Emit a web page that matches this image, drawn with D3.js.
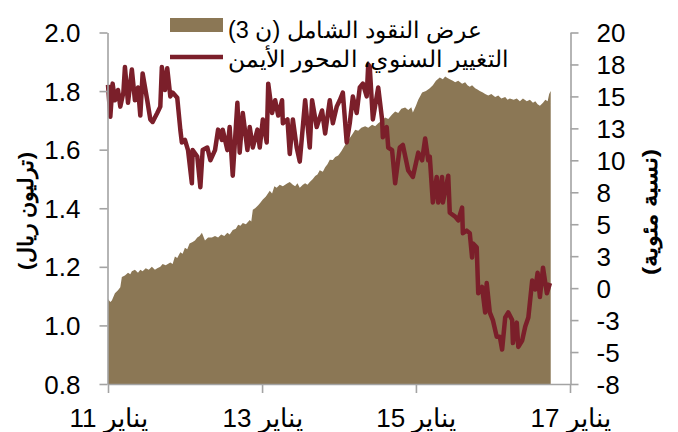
<!DOCTYPE html>
<html>
<head>
<meta charset="utf-8">
<script src="https://cdn.jsdelivr.net/npm/d3@7"></script>
<style>
  body { margin: 0; background: #fff; }
  svg { font-family: "Liberation Sans", Arial, sans-serif; }
</style>
</head>
<body>
<div id="chart"></div>
<script>
// data
// time is written as decimal years (2011.50 = mid 2011)
const moneyTime = [2011.00,2011.03,2011.05,2011.09,2011.13,2011.16,2011.18,2011.22,2011.26,2011.29,2011.31,2011.35,2011.39,2011.42,2011.45,2011.49,2011.53,2011.57,2011.61,2011.64,2011.68,2011.71,2011.75,2011.81,2011.84,2011.87,2011.90,2011.94,2011.97,
  2012.00,2012.03,2012.06,2012.10,2012.13,2012.16,2012.19,2012.22,2012.26,2012.30,2012.35,2012.39,2012.43,2012.47,2012.51,2012.55,2012.58,2012.62,2012.66,2012.69,2012.72,2012.75,2012.79,2012.84,2012.86,2012.88,2012.91,2012.95,2012.98,
  2013.01,2013.05,2013.10,2013.13,2013.16,2013.19,2013.23,2013.27,2013.30,2013.33,2013.36,2013.40,2013.43,2013.46,2013.49,2013.53,2013.56,2013.59,2013.62,2013.66,2013.69,2013.72,2013.75,2013.79,2013.82,2013.85,2013.88,2013.92,2013.95,2013.99,
  2014.03,2014.08,2014.11,2014.14,2014.18,2014.21,2014.25,2014.29,2014.34,2014.38,2014.43,2014.47,2014.51,2014.56,2014.60,2014.64,2014.69,2014.73,2014.77,2014.81,2014.86,2014.90,2014.94,2014.96,
  2015.00,2015.03,2015.06,2015.08,2015.13,2015.18,2015.22,2015.26,2015.31,2015.35,2015.38,2015.41,2015.44,2015.48,2015.51,2015.55,2015.60,2015.64,2015.67,2015.70,2015.73,2015.77,2015.80,2015.83,2015.87,2015.90,2015.94,2015.98,
  2016.03,2016.07,2016.11,2016.16,2016.19,2016.22,2016.27,2016.31,2016.35,2016.39,2016.44,2016.48,2016.52,2016.55,2016.58,2016.61,2016.65,2016.68,2016.71,2016.73,2016.75];
const moneySupply = [1.09,1.08,1.085,1.11,1.12,1.13,1.165,1.17,1.18,1.175,1.185,1.19,1.18,1.19,1.185,1.195,1.19,1.20,1.19,1.195,1.20,1.21,1.205,1.215,1.21,1.235,1.23,1.25,1.245,
  1.265,1.26,1.28,1.285,1.29,1.30,1.305,1.316,1.29,1.30,1.30,1.305,1.30,1.31,1.305,1.316,1.31,1.326,1.33,1.344,1.34,1.35,1.345,1.36,1.355,1.395,1.40,1.41,1.42,
  1.43,1.44,1.46,1.45,1.475,1.47,1.48,1.475,1.48,1.485,1.49,1.48,1.475,1.485,1.47,1.48,1.485,1.48,1.49,1.50,1.51,1.515,1.53,1.525,1.54,1.55,1.566,1.565,1.575,1.58,
  1.595,1.617,1.63,1.64,1.655,1.668,1.665,1.675,1.68,1.675,1.685,1.68,1.69,1.70,1.71,1.705,1.72,1.73,1.725,1.74,1.744,1.735,1.745,1.727,
  1.75,1.77,1.785,1.795,1.80,1.81,1.82,1.835,1.846,1.84,1.85,1.845,1.84,1.835,1.83,1.835,1.825,1.83,1.82,1.815,1.82,1.81,1.805,1.80,1.795,1.79,1.785,1.79,
  1.78,1.785,1.775,1.78,1.77,1.775,1.77,1.775,1.765,1.775,1.765,1.77,1.76,1.765,1.755,1.75,1.76,1.77,1.765,1.79,1.80];

const growthTime = [2011.00,2011.03,2011.06,2011.09,2011.13,2011.16,2011.20,2011.22,2011.26,2011.31,2011.35,2011.39,2011.42,2011.45,2011.51,2011.55,2011.58,2011.64,2011.68,2011.70,2011.74,2011.77,2011.81,2011.84,2011.90,2011.94,2011.96,
  2012.00,2012.04,2012.09,2012.10,2012.16,2012.20,2012.23,2012.29,2012.33,2012.39,2012.43,2012.48,2012.49,2012.55,2012.58,2012.62,2012.68,2012.71,2012.75,2012.81,2012.84,2012.88,2012.94,2012.97,
  2013.01,2013.06,2013.08,2013.13,2013.17,2013.21,2013.26,2013.27,2013.33,2013.36,2013.40,2013.45,2013.49,2013.56,2013.62,2013.65,2013.71,2013.78,2013.82,2013.88,2013.92,2013.97,
  2014.01,2014.05,2014.10,2014.14,2014.18,2014.23,2014.27,2014.31,2014.36,2014.38,2014.40,2014.44,2014.51,2014.56,2014.57,2014.62,2014.64,2014.69,2014.73,2014.79,2014.83,2014.90,2014.96,
  2015.03,2015.08,2015.12,2015.16,2015.18,2015.22,2015.27,2015.29,2015.34,2015.35,2015.42,2015.44,2015.51,2015.55,2015.60,2015.61,2015.66,2015.70,2015.73,2015.74,2015.79,2015.81,2015.86,2015.90,2015.92,2015.96,
  2016.00,2016.05,2016.09,2016.12,2016.16,2016.20,2016.25,2016.26,2016.31,2016.33,2016.38,2016.42,2016.46,2016.51,2016.55,2016.58,2016.61,2016.65,2016.70,2016.74];
const growthRate = [15.9,13.4,16.0,14.7,15.5,14.2,15.3,17.3,14.5,17.1,14.7,15.7,13.5,16.8,14.7,13.2,13.0,13.7,14.2,17.3,15.5,17.2,15.0,15.3,14.9,12.4,11.4,
  11.6,10.8,8.2,10.8,10.3,7.9,10.8,11.0,10.0,10.8,12.4,11.6,12.4,10.8,12.6,8.8,14.5,10.6,13.7,10.8,12.6,11.0,12.4,11.0,
  13.2,11.4,16.0,13.7,14.7,13.5,14.7,12.9,13.2,10.5,13.2,11.0,9.9,14.7,11.0,14.7,12.6,13.9,12.1,14.7,12.9,14.2,
  14.7,15.3,11.4,12.9,15.0,13.7,15.7,16.0,15.0,17.5,17.3,13.2,15.7,13.2,11.8,12.6,11.0,10.8,8.2,11.0,11.2,9.2,8.7,
  10.6,10.0,11.7,10.0,10.3,6.7,8.7,6.7,8.7,6.7,8.8,5.9,5.6,5.3,6.3,4.3,4.5,4.3,2.4,3.5,3.2,-0.4,0.1,-1.9,0.4,-1.9,
  -2.5,-3.8,-3.8,-4.8,-2.3,-1.9,-2.5,-4.3,-2.7,-4.6,-4.1,-3.0,-2.3,0.6,-0.1,1.2,-0.7,1.6,-0.4,0.4];

const leftTicks = [0.8, 1.0, 1.2, 1.4, 1.6, 1.8, 2.0];
const rightTicks = [-7.5, -5, -2.5, 0, 2.5, 5, 7.5, 10, 12.5, 15, 17.5, 20];
const xTickYears = [2011, 2013, 2015, 2017];

const moneyLabel = "عرض النقود الشامل (ن 3)";
const growthLabel = "التغيير السنوي، المحور الأيمن";
const leftTitle = "(ترليون ريال)";
const rightTitle = "(نسبة مئوية)";

/** CONSTANTS */
let width = 678,
  height = 432,
  margin = { top: 32.5, bottom: 48, left: 108, right: 108 };
const brown = "#8b7755", wine = "#7b1f2a", axisGrey = "#a3a3a3";

// decimal year -> Date
function toDate(y) {
  let yr = Math.floor(y);
  let start = new Date(yr, 0, 1), end = new Date(yr + 1, 0, 1);
  return new Date(+start + (y - yr) * (end - start));
}

let money = moneyTime.map((t, i) => ({ date: toDate(t), value: moneySupply[i] }));
let growth = growthTime.map((t, i) => ({ date: toDate(t), value: growthRate[i] }));

/** SCALES */
let xScale = d3.scaleTime()
  .domain([new Date(2011, 0, 1), new Date(2017, 0, 1)])
  .range([margin.left, width - margin.right]);

let yLeft = d3.scaleLinear()
  .domain([0.8, 2.0])
  .range([height - margin.bottom, margin.top]);

let yRight = d3.scaleLinear()
  .domain([-7.5, 20])
  .range([height - margin.bottom, margin.top]);

/** MAIN CODE */
let svg = d3.select("#chart")
  .append("svg")
  .attr("width", width)
  .attr("height", height);

// area
svg.append("path")
  .datum(money)
  .attr("fill", brown)
  .attr("d", d3.area()
    .x(d => xScale(d.date))
    .y0(yLeft(0.8))
    .y1(d => yLeft(d.value)));

// line
svg.append("path")
  .datum(growth)
  .attr("fill", "none")
  .attr("stroke", wine)
  .attr("stroke-width", 4.5)
  .attr("stroke-linejoin", "round")
  .attr("d", d3.line()
    .x(d => xScale(d.date))
    .y(d => yRight(d.value)));

// axes
let leftAxis = svg.append("g")
  .attr("transform", `translate(${margin.left - 0.5},0)`)
  .call(d3.axisLeft(yLeft).tickValues(leftTicks).tickFormat(d3.format(".1f"))
    .tickSize(8).tickSizeOuter(0).tickPadding(19));

let rightAxis = svg.append("g")
  .attr("transform", `translate(${width - margin.right + 0.5},0)`)
  .call(d3.axisRight(yRight).tickValues(rightTicks)
    .tickFormat(d => Math.sign(d) * Math.round(Math.abs(d)))
    .tickSize(8).tickSizeOuter(0).tickPadding(18));

let bottomAxis = svg.append("g")
  .attr("transform", `translate(0,${height - margin.bottom})`)
  .call(d3.axisBottom(xScale).tickValues(xTickYears.map(y => new Date(y, 0, 1)))
    .tickFormat(d => "يناير " + String(d.getFullYear()).slice(2))
    .tickSize(9).tickSizeOuter(0));

[leftAxis, rightAxis, bottomAxis].forEach(g => {
  g.selectAll("path, line").attr("stroke", axisGrey).attr("stroke-width", 1.6);
  g.selectAll("text").attr("fill", "#000").style("font-size", "26px");
});
leftAxis.selectAll("text").attr("dy", "0.35em");
rightAxis.selectAll("text").attr("dy", "0.35em");
bottomAxis.selectAll("text")
  .attr("y", 43).attr("dy", null)
  .attr("direction", "rtl")
  .attr("text-anchor", "middle");

// axis titles
svg.append("text")
  .attr("transform", "translate(26,211) rotate(-90)")
  .attr("text-anchor", "middle")
  .attr("dy", "0.35em")
  .attr("direction", "rtl")
  .style("font-size", "21px")
  .style("font-weight", "bold")
  .attr("textLength", 118)
  .attr("lengthAdjust", "spacingAndGlyphs")
  .text(leftTitle);

svg.append("text")
  .attr("transform", "translate(650,212) rotate(-90)")
  .attr("text-anchor", "middle")
  .attr("dy", "0.35em")
  .attr("direction", "rtl")
  .style("font-size", "21px")
  .style("font-weight", "bold")
  .attr("textLength", 126)
  .attr("lengthAdjust", "spacingAndGlyphs")
  .text(rightTitle);

// legend
let legend = svg.append("g");
legend.append("rect")
  .attr("x", 170).attr("y", 18)
  .attr("width", 53).attr("height", 14)
  .attr("fill", brown);
legend.append("line")
  .attr("x1", 170).attr("x2", 223)
  .attr("y1", 57).attr("y2", 57)
  .attr("stroke", wine).attr("stroke-width", 4.5);
legend.selectAll("text.legend")
  .data([moneyLabel, growthLabel])
  .join("text")
  .attr("class", "legend")
  .attr("x", 228)
  .attr("y", (d, i) => i == 0 ? 38 : 67)
  .attr("direction", "rtl")
  .attr("text-anchor", "end")
  .style("font-size", "23px")
  .attr("textLength", (d, i) => i == 0 ? 254 : 280)
  .attr("lengthAdjust", "spacingAndGlyphs")
  .text(d => d);
</script>
</body>
</html>
